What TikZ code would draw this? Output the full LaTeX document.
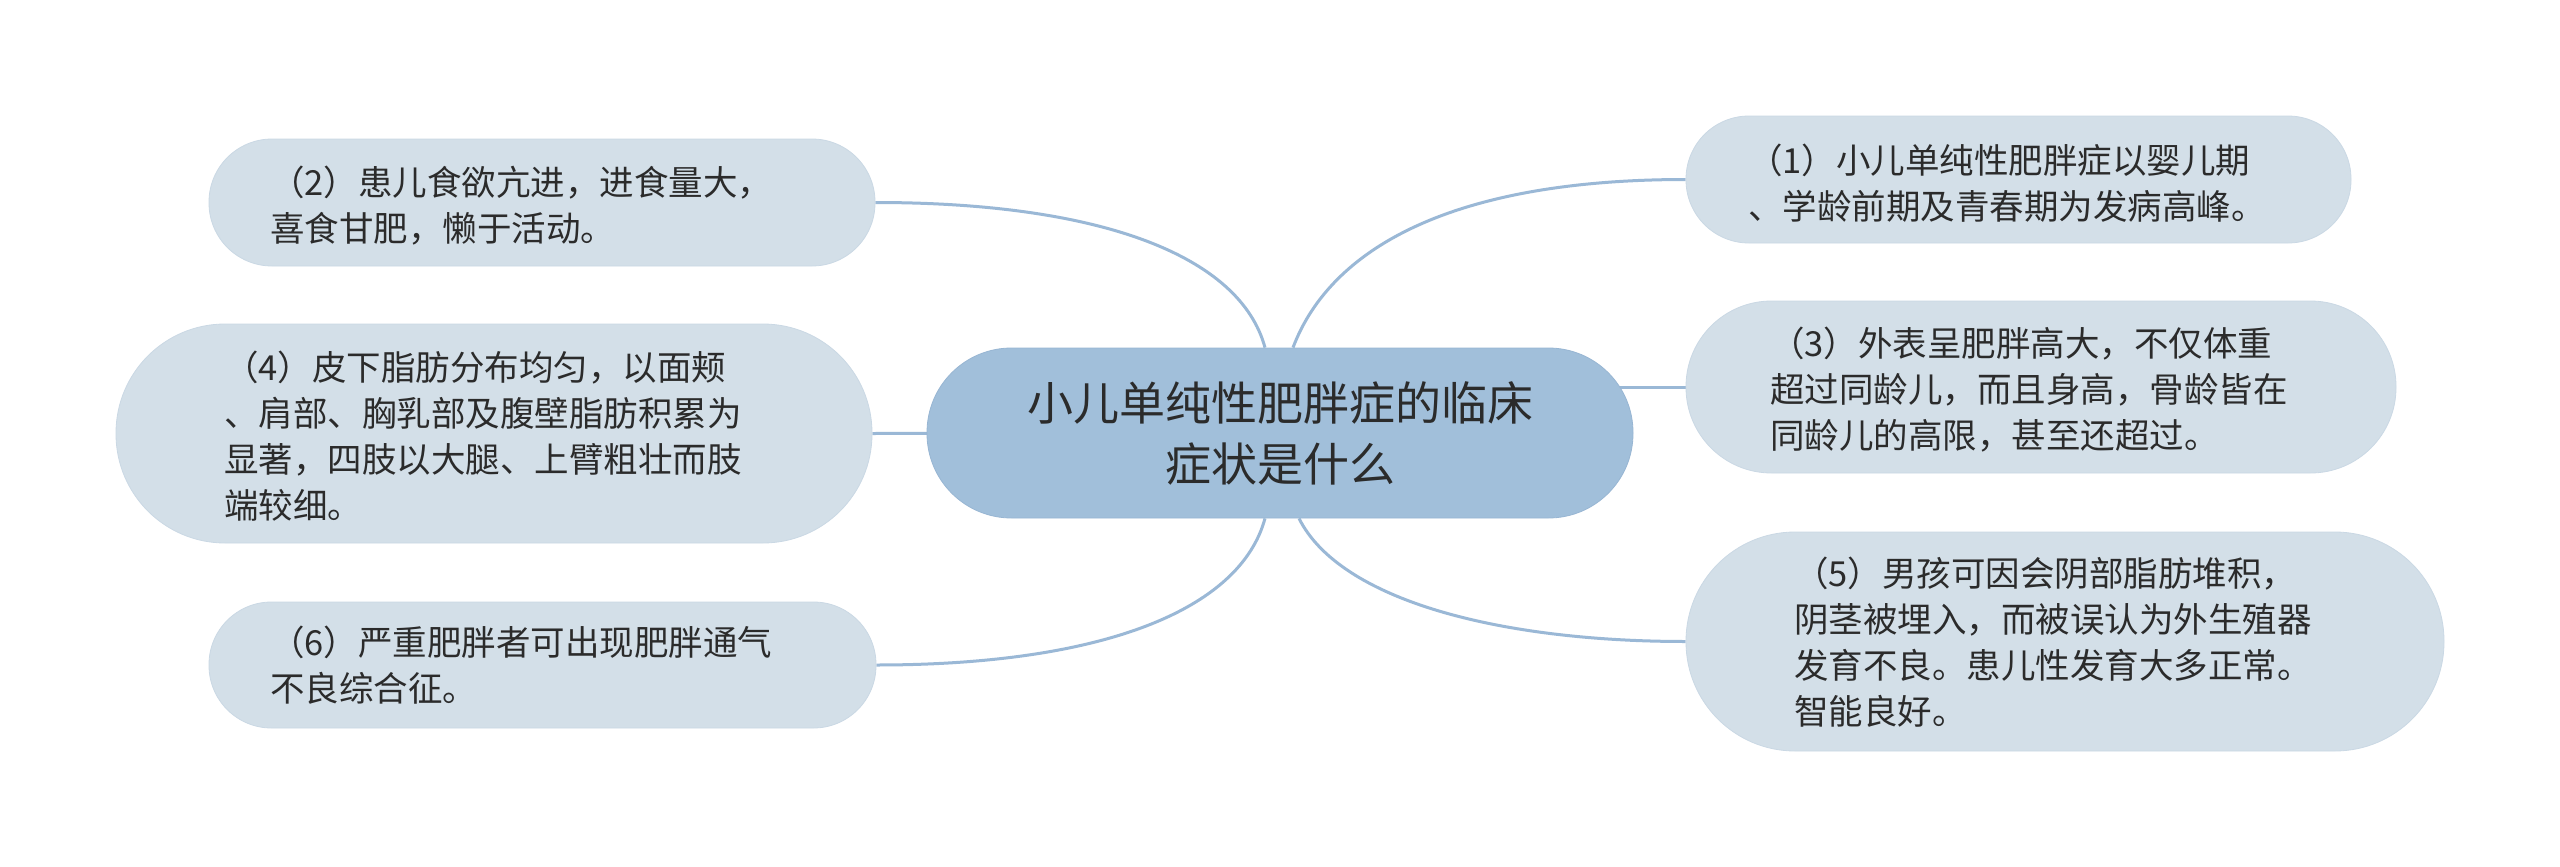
\documentclass[tikz,border=0pt]{standalone}
\usepackage{fontspec}
\setmainfont{Noto Sans CJK SC}
\definecolor{centerfill}{HTML}{A1BFDA}
\definecolor{centerdraw}{HTML}{98B6D3}
\definecolor{leaffill}{HTML}{D3DFE8}
\definecolor{leafdraw}{HTML}{CAD8E4}
\definecolor{linkc}{HTML}{9AB8D6}
\definecolor{txt}{HTML}{2B2B2B}
\pgfdeclarelayer{bg}
\pgfsetlayers{bg,main}
\begin{document}
\begin{tikzpicture}[x=1pt,y=-1pt,
  leaf/.style={fill=leaffill, draw=leafdraw, line width=0.8pt, inner sep=0pt},
  leaftext/.style={anchor=west, align=left, inner sep=0pt, text=txt, font=\fontsize{34.5}{46}\selectfont},
  link/.style={draw=linkc, line width=3pt},
]
\useasboundingbox (0,0) rectangle (2560,867);

\node[fill=centerfill, draw=centerdraw, line width=0.8pt, minimum width=706pt, minimum height=170pt,
      rounded corners=84.5pt, text=txt, align=center, font=\fontsize{46}{61}\selectfont, inner sep=0pt]
      (c) at (1280,433) {小儿单纯性肥胖症的临床\\症状是什么};

\node[leaf, minimum width=665pt, minimum height=127pt, rounded corners=63pt] (n1) at (2018.5,179.5) {};
\node[leaftext] (t1) at (1748,183) {（1）小儿单纯性肥胖症以婴儿期\\、学龄前期及青春期为发病高峰。};

\node[leaf, minimum width=666pt, minimum height=127pt, rounded corners=63pt] (n2) at (542,202.5) {};
\node[leaftext] (t2) at (270,206) {（2）患儿食欲亢进，进食量大，\\喜食甘肥，懒于活动。};

\node[leaf, minimum width=710pt, minimum height=172pt, rounded corners=85.5pt] (n3) at (2041,387) {};
\node[leaftext] (t3) at (1770,390) {（3）外表呈肥胖高大，不仅体重\\超过同龄儿，而且身高，骨龄皆在\\同龄儿的高限，甚至还超过。};

\node[leaf, minimum width=756pt, minimum height=219pt, rounded corners=109pt] (n4) at (494,433.5) {};
\node[leaftext] (t4) at (224,436) {（4）皮下脂肪分布均匀，以面颊\\、肩部、胸乳部及腹壁脂肪积累为\\显著，四肢以大腿、上臂粗壮而肢\\端较细。};

\node[leaf, minimum width=758pt, minimum height=219pt, rounded corners=109pt] (n5) at (2065,641.5) {};
\node[leaftext] (t5) at (1794,642) {（5）男孩可因会阴部脂肪堆积，\\阴茎被埋入，而被误认为外生殖器\\发育不良。患儿性发育大多正常。\\智能良好。};

\node[leaf, minimum width=667pt, minimum height=126pt, rounded corners=62.5pt] (n6) at (542.5,665) {};
\node[leaftext] (t6) at (270,665) {（6）严重肥胖者可出现肥胖通气\\不良综合征。};

\begin{pgfonlayer}{bg}
\fill[white] (0,0) rectangle (2560,867);
\draw[link] ([xshift=13pt]c.north) .. controls +(37,-98) and +(-236,0) .. (n1.west);
\draw[link] ([xshift=-15pt]c.north) .. controls +(-25,-92) and +(225,0) .. (n2.east);
\draw[link] (c.center |- n3.west) -- (n3.west);
\draw[link] (c.center) -- (n4.east);
\draw[link] ([xshift=19pt]c.south) .. controls +(41,82) and +(-186,0) .. (n5.west);
\draw[link] ([xshift=-15pt]c.south) .. controls +(-25,92) and +(225,0) .. (n6.east);
\end{pgfonlayer}
\end{tikzpicture}
\end{document}
